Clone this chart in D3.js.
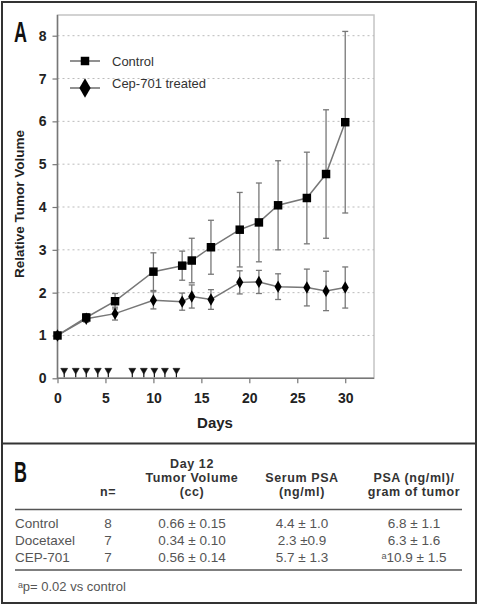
<!DOCTYPE html>
<html><head><meta charset="utf-8">
<script src="https://cdn.jsdelivr.net/npm/d3@7"></script>
<style>body{margin:0;background:#fff}svg{display:block}</style>
</head><body>
<script>
// ---- data ----
const days = [0, 3, 6, 10, 13, 14, 16, 19, 21, 23, 26, 28, 30];
const controlMean = [1.0, 1.42, 1.8, 2.49, 2.63, 2.75, 3.06, 3.47, 3.64, 4.04, 4.21, 4.77, 5.98];
const controlErr  = [0, 0.09, 0.18, 0.44, 0.34, 0.52, 0.63, 0.87, 0.92, 1.04, 1.07, 1.5, 2.12];
const treatedMean = [1.0, 1.39, 1.51, 1.82, 1.79, 1.91, 1.84, 2.24, 2.25, 2.14, 2.12, 2.04, 2.12];
const treatedErr  = [0, 0.08, 0.15, 0.2, 0.2, 0.27, 0.23, 0.27, 0.27, 0.3, 0.43, 0.46, 0.48];
const doseDays = [0.7, 1.9, 3.0, 4.2, 5.3, 7.8, 9.0, 10.1, 11.2, 12.4];
const xTicks = [0, 5, 10, 15, 20, 25, 30];
const yTicks = [0, 1, 2, 3, 4, 5, 6, 7, 8];
const seriesNames = ["Control", "Cep-701 treated"];

const tableGroups = ["Control", "Docetaxel", "CEP-701"];
const tableN = ["8", "7", "7"];
const tableVolume = ["0.66 \u00b1 0.15", "0.34 \u00b1 0.10", "0.56 \u00b1 0.14"];
const tableSerum = ["4.4 \u00b1 1.0", "2.3 \u00b10.9", "5.7 \u00b1 1.3"];
const tablePSAgram = ["6.8 \u00b1 1.1", "6.3 \u00b1 1.6", "\u1d4310.9 \u00b1 1.5"];

const W = 478, H = 606;
const svg = d3.select("body").append("svg").attr("width", W).attr("height", H);

// outer frame
svg.append("rect").attr("x", 2).attr("y", 2).attr("width", 474).attr("height", 601)
  .attr("fill", "none").attr("stroke", "#333").attr("stroke-width", 2);
svg.append("line").attr("x1", 2).attr("x2", 476).attr("y1", 443.5).attr("y2", 443.5)
  .attr("stroke", "#333").attr("stroke-width", 2);

// ---- panel A ----
const x = d3.scaleLinear().domain([0, 33]).range([57.5, 374]);
const y = d3.scaleLinear().domain([0, 8]).range([378.3, 35.7]);
const plotTop = 15;

svg.append("rect").attr("x", x(0)).attr("y", plotTop).attr("width", x(33) - x(0)).attr("height", y(0) - plotTop)
  .attr("fill", "none").attr("stroke", "#c4c4c4").attr("stroke-width", 1.5);

svg.append("g").selectAll("line").data(yTicks.filter(d => d > 0)).join("line")
  .attr("x1", x(0)).attr("x2", x(33)).attr("y1", d => y(d)).attr("y2", d => y(d))
  .attr("stroke", "#bbb").attr("stroke-dasharray", "2,3").attr("stroke-width", 1);

const yAxis = svg.append("g").attr("transform", `translate(${x(0)},0)`)
  .call(d3.axisLeft(y).tickValues(yTicks).tickSize(5).tickPadding(6).tickFormat(d3.format("d")));
const xAxis = svg.append("g").attr("transform", `translate(0,${y(0)})`)
  .call(d3.axisBottom(x).tickValues(xTicks).tickSize(5).tickPadding(10).tickFormat(d3.format("d")));
[yAxis, xAxis].forEach(a => {
  a.select(".domain").attr("stroke", "#777").attr("stroke-width", 1.5);
  a.selectAll(".tick line").attr("stroke", "#777").attr("stroke-width", 1.2);
  a.selectAll("text").attr("font-family", "Liberation Sans, Arial, sans-serif")
    .attr("font-size", 14).attr("font-weight", "bold").attr("fill", "#222");
});
xAxis.select(".domain").attr("d", `M${x(0)},0H${x(33)}`);
yAxis.select(".domain").attr("d", `M0,${y(0)}V${plotTop}`);

svg.append("text").attr("x", 215).attr("y", 428).attr("text-anchor", "middle")
  .attr("font-family", "Liberation Sans, Arial, sans-serif").attr("font-size", 15).attr("font-weight", "bold")
  .attr("fill", "#222").text("Days");
svg.append("text").attr("transform", "translate(24,204) rotate(-90)").attr("text-anchor", "middle")
  .attr("font-family", "Liberation Sans, Arial, sans-serif").attr("font-size", 13.5).attr("font-weight", "bold")
  .attr("fill", "#222").text("Relative Tumor Volume");

// panel letters (condensed look)
function panelLetter(txt, px, py) {
  svg.append("text").attr("transform", `translate(${px},${py}) scale(0.62,1)`)
    .attr("font-family", "Liberation Sans, Arial, sans-serif").attr("font-size", 29)
    .attr("font-weight", "bold").attr("fill", "#111").text(txt);
}
panelLetter("A", 14, 42);

// dose arrows
const arrows = svg.append("g").attr("fill", "#111").attr("stroke", "#111");
doseDays.forEach(d => {
  arrows.append("path").attr("d", `M${x(d) - 3.5},${y(0) - 10}L${x(d) + 3.5},${y(0) - 10}L${x(d)},${y(0) - 4}Z`).attr("stroke-width", 0.5);
  arrows.append("line").attr("x1", x(d)).attr("x2", x(d)).attr("y1", y(0) - 5).attr("y2", y(0) - 1).attr("stroke-width", 1.2);
});

function errorBars(means, errs) {
  const g = svg.append("g").attr("stroke", "#777").attr("stroke-width", 1.3);
  days.forEach((d, i) => {
    if (errs[i] <= 0) return;
    const cx = x(d), y1 = y(means[i] + errs[i]), y2 = y(means[i] - errs[i]);
    g.append("line").attr("x1", cx).attr("x2", cx).attr("y1", y1).attr("y2", y2);
    g.append("line").attr("x1", cx - 3).attr("x2", cx + 3).attr("y1", y1).attr("y2", y1);
    g.append("line").attr("x1", cx - 3).attr("x2", cx + 3).attr("y1", y2).attr("y2", y2);
  });
}
errorBars(controlMean, controlErr);
errorBars(treatedMean, treatedErr);

const line = d3.line().x(d => x(d[0])).y(d => y(d[1]));
svg.append("path").datum(days.map((d, i) => [d, controlMean[i]])).attr("d", line)
  .attr("fill", "none").attr("stroke", "#777").attr("stroke-width", 1.5);
svg.append("path").datum(days.map((d, i) => [d, treatedMean[i]])).attr("d", line)
  .attr("fill", "none").attr("stroke", "#777").attr("stroke-width", 1.5);

const sq = d3.symbol().type(d3.symbolSquare).size(72);
const dia = d3.symbol().type(d3.symbolDiamond).size(44);
svg.append("g").selectAll("path").data(days.map((d, i) => [d, treatedMean[i]])).join("path")
  .attr("transform", d => `translate(${x(d[0])},${y(d[1])})`).attr("d", dia).attr("fill", "#000");
svg.append("g").selectAll("path").data(days.map((d, i) => [d, controlMean[i]])).join("path")
  .attr("transform", d => `translate(${x(d[0])},${y(d[1])})`).attr("d", sq).attr("fill", "#000");

// legend
const leg = svg.append("g");
[[61, sq, seriesNames[0]], [88, d3.symbol().type(d3.symbolDiamond).size(110), seriesNames[1]]].forEach(([ly, sym, name]) => {
  leg.append("line").attr("x1", 70).attr("x2", 100).attr("y1", ly).attr("y2", ly).attr("stroke", "#555").attr("stroke-width", 1.3);
  leg.append("path").attr("transform", `translate(85,${ly})`).attr("d", sym).attr("fill", "#000");
});
leg.append("text").attr("x", 112).attr("y", 66).text(seriesNames[0]);
leg.append("text").attr("x", 112).attr("y", 88).text(seriesNames[1]);
leg.selectAll("text").attr("font-family", "Liberation Sans, Arial, sans-serif").attr("font-size", 13).attr("fill", "#333");

// ---- panel B ----
panelLetter("B", 14, 482);

const colX = [15, 108, 192, 302, 414];
const hdr = svg.append("g").attr("font-family", "Liberation Sans, Arial, sans-serif").attr("font-size", 12.5)
  .attr("font-weight", "bold").attr("fill", "#333").attr("text-anchor", "middle").attr("letter-spacing", 0.6);
[[colX[1], 496, "n="], [colX[2], 468, "Day 12"], [colX[2], 482, "Tumor Volume"], [colX[2], 496, "(cc)"],
 [colX[3], 482, "Serum PSA"], [colX[3], 496, "(ng/ml)"], [colX[4], 482, "PSA (ng/ml)/"], [colX[4], 496, "gram of tumor"]]
  .forEach(([tx, ty, t]) => hdr.append("text").attr("x", tx).attr("y", ty).text(t));

svg.append("line").attr("x1", 15).attr("x2", 462).attr("y1", 509.5).attr("y2", 509.5).attr("stroke", "#555").attr("stroke-width", 1.5);
svg.append("line").attr("x1", 15).attr("x2", 462).attr("y1", 570).attr("y2", 570).attr("stroke", "#555").attr("stroke-width", 1.5);

const rowY = d3.scaleBand().domain(tableGroups).range([514, 566]);
const body = svg.append("g").attr("font-family", "Liberation Sans, Arial, sans-serif").attr("font-size", 13.5).attr("fill", "#555");
tableGroups.forEach((g, i) => {
  const ty = rowY(g) + rowY.bandwidth() / 2 + 5;
  body.append("text").attr("x", colX[0]).attr("y", ty).text(g);
  [tableN[i], tableVolume[i], tableSerum[i], tablePSAgram[i]].forEach((t, j) =>
    body.append("text").attr("x", colX[j + 1]).attr("y", ty).attr("text-anchor", "middle").text(t));
});
svg.append("text").attr("x", 18).attr("y", 591).attr("font-family", "Liberation Sans, Arial, sans-serif")
  .attr("font-size", 13).attr("fill", "#555").text("\u1d43p= 0.02 vs control");
</script>
</body></html>
